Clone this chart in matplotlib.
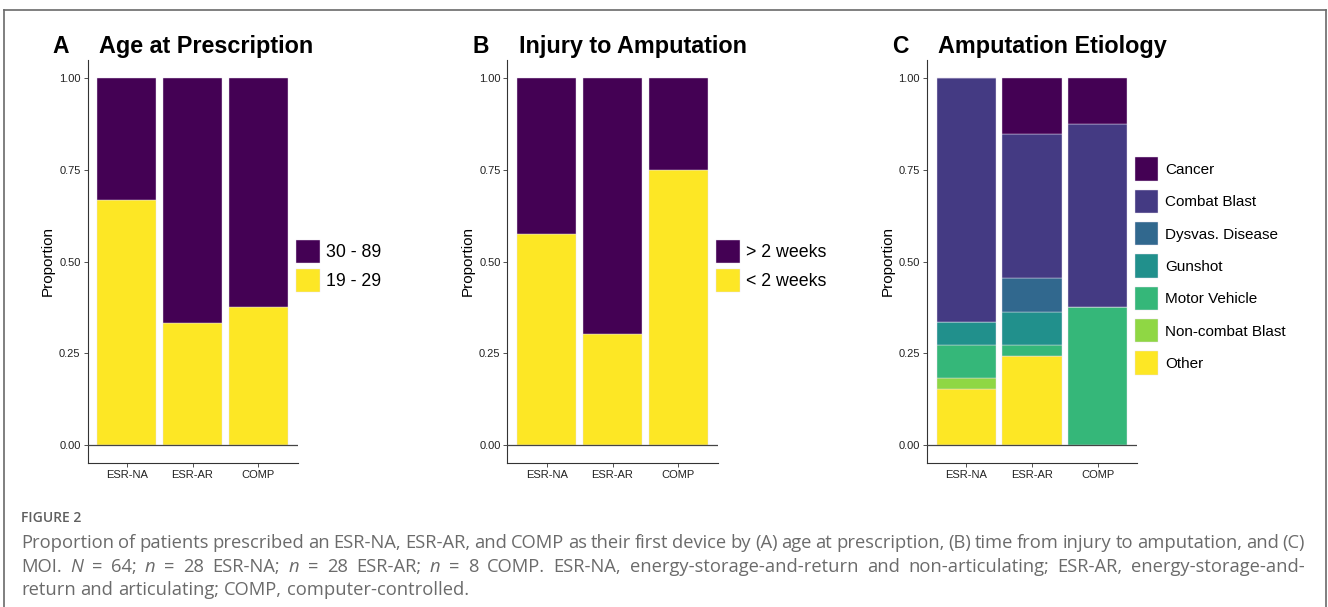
import matplotlib
matplotlib.use("Agg")
import matplotlib.pyplot as plt
from matplotlib.patches import Patch
from matplotlib.lines import Line2D

W, H = 1328, 607

groups = ["ESR-NA", "ESR-AR", "COMP"]

# A: age at prescription
age_labels = ["30 - 89", "19 - 29"]
age_old = [0.333, 0.667, 0.625]
age_young = [0.667, 0.333, 0.375]

# B: injury to amputation
inj_labels = ["> 2 weeks", "< 2 weeks"]
inj_late = [0.425, 0.698, 0.25]
inj_early = [0.575, 0.302, 0.75]

# C: amputation etiology (top of stack first)
eti_labels = ["Cancer", "Combat Blast", "Dysvas. Disease", "Gunshot",
              "Motor Vehicle", "Non-combat Blast", "Other"]
cancer = [0.0, 0.152, 0.125]
combat = [0.667, 0.394, 0.5]
dysvas = [0.0, 0.091, 0.0]
gunshot = [0.061, 0.091, 0.0]
motor = [0.091, 0.030, 0.375]
noncombat = [0.030, 0.0, 0.0]
other = [0.152, 0.242, 0.0]

vir2 = ["#440154", "#FDE725"]
vir7 = ["#440154", "#443A83", "#31688E", "#21908C", "#35B779", "#8FD744", "#FDE725"]

plt.rcParams['font.family'] = ['Liberation Sans', 'DejaVu Sans']

fig = plt.figure(figsize=(W / 100, H / 100), dpi=100)


def px(x, y):
    return x / W, 1 - y / H


def make_axes(left_px):
    ax = fig.add_axes([left_px / W, (H - 463) / H, 210 / W, 403 / H])
    ax.set_xlim(0.4, 3.6)
    ax.set_ylim(-0.05, 1.05)
    for s in ["top", "right"]:
        ax.spines[s].set_visible(False)
    for s in ["left", "bottom"]:
        ax.spines[s].set_color("#333333")
        ax.spines[s].set_linewidth(0.8)
    ax.set_xticks([1, 2, 3])
    ax.set_xticklabels(groups)
    ax.set_yticks([0, 0.25, 0.5, 0.75, 1.0])
    ax.set_yticklabels(["0.00", "0.25", "0.50", "0.75", "1.00"])
    ax.tick_params(labelsize=8, colors="#333333", length=3, width=0.6,
                   labelcolor="#222222", pad=2)
    ax.set_ylabel("Proportion", fontsize=11, labelpad=3)
    ax.axhline(0, color="#444444", lw=0.9, zorder=3)
    return ax


def stack(ax, series, colors):
    xs = [1, 2, 3]
    bottom = [0, 0, 0]
    for vals, c in zip(series, colors):
        ax.bar(xs, vals, width=0.9, bottom=bottom, color=c,
               edgecolor="#e8e0f0", linewidth=0.3, zorder=2)
        bottom = [b + v for b, v in zip(bottom, vals)]


def legend(ax, labels, colors, x, y, fs, hl, hh, ls, tp):
    handles = [Patch(facecolor=c, edgecolor="#e8e0f0", linewidth=0.3) for c in colors]
    ax.legend(handles, labels, loc="upper left", bbox_to_anchor=px(x, y),
              bbox_transform=fig.transFigure, frameon=False, fontsize=fs,
              handlelength=hl, handleheight=hh, labelspacing=ls,
              handletextpad=tp, borderpad=0, borderaxespad=0)


panels = [(87.5, "A", "Age at Prescription"),
          (507.5, "B", "Injury to Amputation"),
          (927, "C", "Amputation Etiology")]

axes = [make_axes(p[0]) for p in panels]
for (left, letter, title), ax in zip(panels, axes):
    fig.text(*px(left - 35, 53), letter, fontsize=16.5, fontweight="bold")
    fig.text(*px(left + 11.5, 53), title, fontsize=16.8, fontweight="bold")

# A
stack(axes[0], [age_young, age_old], [vir2[1], vir2[0]])
legend(axes[0], age_labels, vir2, 296, 240, 12.8, 1.35, 1.61, 0.34, 0.34)
# B
stack(axes[1], [inj_early, inj_late], [vir2[1], vir2[0]])
legend(axes[1], inj_labels, vir2, 716, 240, 12.8, 1.35, 1.61, 0.34, 0.34)
# C
eti_series = [cancer, combat, dysvas, gunshot, motor, noncombat, other]
stack(axes[2], eti_series[::-1], vir7[::-1])
legend(axes[2], eti_labels, vir7, 1135, 157.5, 11, 1.5, 1.97, 0.59, 0.45)

# frame around the figure (open at the bottom)
for xs, ys in [([4, 4], [H, 10]), ([4, 1326], [10, 10]), ([1326, 1326], [10, H])]:
    fig.add_artist(Line2D([x / W for x in xs], [1 - y / H for y in ys],
                          color="#6a6a6a", lw=1.2, transform=fig.transFigure))

# caption
cap_color = "#6b6b6b"
cap_font = ["Open Sans", "DejaVu Sans"]
fig.text(*px(21, 522), "FIGURE 2", fontsize=10, color="#5f5f5f",
         family=cap_font, fontweight="semibold", va="baseline")

lines = [
    ("Proportion of patients prescribed an ESR-NA, ESR-AR, and COMP as their first device by "
     "(A) age at prescription, (B) time from injury to amputation, and (C)", True),
    ("MOI. *N = 64; *n = 28 ESR-NA; *n = 28 ESR-AR; *n = 8 COMP. ESR-NA, energy-storage-and-return "
     "and non-articulating; ESR-AR, energy-storage-and-", True),
    ("return and articulating; COMP, computer-controlled.", False),
]
renderer = fig.canvas.get_renderer()
cap_fs = 13.2
x0, x1 = 21, 1305
for i, (line, justify) in enumerate(lines):
    ybase = 548 + i * 23.7
    words = line.split(" ")
    texts = []
    for w in words:
        style = "normal"
        if w.startswith("*"):
            w = w[1:]
            style = "italic"
        t = fig.text(0, 0, w, fontsize=cap_fs, color=cap_color, family=cap_font,
                     style=style, va="baseline")
        texts.append(t)
    widths = [t.get_window_extent(renderer).width for t in texts]
    t1 = fig.text(0, 0, "a a", fontsize=cap_fs, family=cap_font)
    t2 = fig.text(0, 0, "aa", fontsize=cap_fs, family=cap_font)
    space = t1.get_window_extent(renderer).width - t2.get_window_extent(renderer).width
    t1.remove()
    t2.remove()
    if justify and len(words) > 1:
        gap = (x1 - x0 - sum(widths)) / (len(words) - 1)
    else:
        gap = space
    x = x0
    for t, w in zip(texts, widths):
        t.set_position(px(x, ybase))
        x += w + gap

fig.savefig("out.png", dpi=100)
